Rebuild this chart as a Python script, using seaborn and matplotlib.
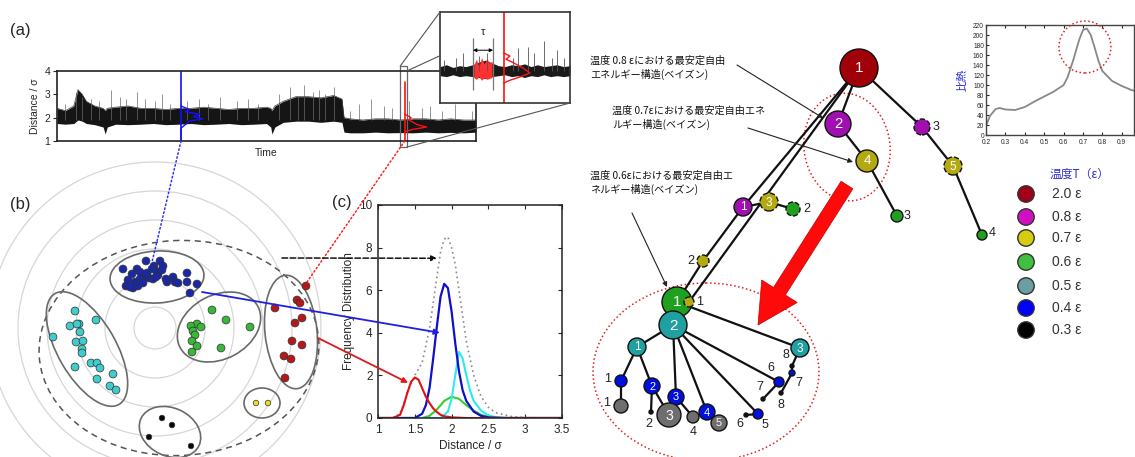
import numpy as np
import pandas as pd
import matplotlib
matplotlib.use("Agg")
import matplotlib.pyplot as plt
import seaborn as sns
from matplotlib.patches import Ellipse, Rectangle, Circle, FancyArrow

# ---------------- data ----------------
# (a) time series envelope (time fraction, distance/sigma)
ts_t = [0.00,0.02,0.04,0.05,0.06,0.07,0.09,0.11,0.115,0.12,0.14,0.17,0.20,0.23,0.26,0.29,0.32,0.35,0.38,0.41,0.44,0.47,0.50,0.51,0.513,0.52,0.54,0.57,0.60,0.63,0.66,0.68,0.685,0.70,0.73,0.76,0.79,0.82,0.85,0.88,0.91,0.94,0.97,1.00]
ts_low = [1.75,1.72,1.75,1.9,1.85,1.75,1.7,1.6,1.3,1.6,1.72,1.7,1.72,1.75,1.7,1.72,1.75,1.7,1.72,1.75,1.7,1.72,1.75,1.6,1.3,1.6,1.8,1.85,1.85,1.8,1.85,1.8,1.38,1.35,1.35,1.38,1.35,1.36,1.35,1.38,1.35,1.37,1.35,1.38]
ts_up = [2.4,2.3,2.5,3.2,3.0,2.7,2.5,2.4,2.3,2.4,2.45,2.5,2.4,2.4,2.35,2.4,2.4,2.45,2.4,2.35,2.4,2.4,2.45,2.4,2.3,2.5,2.7,2.9,2.9,2.85,2.95,2.8,2.0,1.95,1.9,1.95,1.95,1.9,1.95,1.95,1.9,1.95,1.9,1.9]
spike_t = [0.02,0.045,0.06,0.08,0.1,0.13,0.15,0.165,0.19,0.21,0.235,0.25,0.27,0.31,0.34,0.36,0.39,0.43,0.455,0.48,0.53,0.555,0.575,0.59,0.61,0.625,0.64,0.66,0.70,0.72,0.75,0.78,0.80,0.84,0.87,0.89,0.92,0.95,0.99]
spike_top = [2.6,3.1,2.9,2.8,2.7,3.2,2.9,2.8,3.1,2.8,2.7,3.0,2.6,2.7,2.8,2.6,2.9,2.7,2.8,2.6,3.0,3.3,2.9,3.4,3.1,3.2,3.0,3.3,2.3,2.6,2.8,2.5,2.4,2.7,2.4,2.5,2.3,2.6,2.3]
blue_t0 = 0.296
blue_hist_y = [2.5,2.35,2.25,2.15,2.05,1.95,1.85,1.7,1.55,1.0]
blue_hist_w = [0.0,0.02,0.01,0.045,0.03,0.052,0.02,0.01,0.0,0.0]
red_t0 = 0.83
red_hist_y = [2.15,2.0,1.9,1.8,1.7,1.6,1.5,1.4]
red_hist_w = [0.0,0.015,0.01,0.02,0.03,0.052,0.02,0.0]
zoom_t = [0.819, 0.835]

# inset (zoomed trace), normalised units
ins_x = [0,0.05,0.1,0.15,0.2,0.25,0.3,0.35,0.4,0.45,0.5,0.55,0.6,0.65,0.7,0.75,0.8,0.85,0.9,0.95,1.0]
ins_low = [0.30,0.29,0.31,0.29,0.30,0.29,0.28,0.27,0.29,0.30,0.31,0.29,0.30,0.28,0.30,0.29,0.31,0.29,0.30,0.29,0.30]
ins_up = [0.40,0.42,0.39,0.41,0.40,0.42,0.45,0.47,0.44,0.41,0.40,0.42,0.41,0.43,0.40,0.42,0.40,0.41,0.42,0.40,0.41]
ins_red_x = [0.26,0.28,0.30,0.32,0.34,0.36,0.38,0.40]
ins_red_low = [0.28,0.26,0.29,0.25,0.28,0.26,0.27,0.28]
ins_red_up = [0.42,0.48,0.40,0.50,0.43,0.49,0.44,0.46]
ins_spk_x = [0.03,0.12,0.18,0.30,0.36,0.56,0.60,0.68,0.72,0.80,0.86,0.90,0.95]
ins_spk_top = [0.47,0.50,0.55,0.52,0.55,0.50,0.60,0.62,0.55,0.68,0.50,0.58,0.50]
ins_hist_x = [0.49,0.538,0.508,0.554,0.638,0.692,0.615,0.538,0.49]
ins_hist_y = [0.55,0.516,0.48,0.45,0.385,0.33,0.286,0.25,0.22]

# (b) cluster points (pixel layout)
blue_pts = [(123,269),(137,269),(146,261),(160,261),(154,266),(163,266),(152,269),(157,272),(142,274),(147,277),(132,274),(128,280),(126,286),(135,282),(140,279),(133,288),(138,286),(143,283),(149,278),(153,279),(158,275),(166,279),(173,277),(175,282),(178,283),(187,273),(187,282),(197,284),(190,293),(167,282),(162,270),(140,272),(147,273),(156,277),(130,287)]
cyan_pts = [(75,311),(96,320),(70,326),(79,324),(77,324),(80,332),(53,337),(76,342),(83,341),(82,349),(82,353),(75,367),(91,363),(97,363),(100,368),(113,374),(97,379),(110,386),(116,390)]
green_pts = [(212,310),(226,320),(250,327),(197,324),(191,326),(201,327),(193,331),(195,335),(192,341),(197,346),(192,352),(221,348)]
red_pts = [(306,286),(297,300),(300,303),(275,308),(295,323),(302,318),(292,341),(302,345),(284,356),(291,359),(285,378)]
yellow_pts = [(256,403),(268,403)]
black_pts = [(162,418),(172,425),(149,437),(191,446)]
ring_radii = [21,50,79,108,137,166]

# (c) frequency distributions
red_x = [1.0,1.2,1.3,1.35,1.4,1.45,1.5,1.55,1.6,1.65,1.7,1.75,1.8,1.85,1.9,2.0,2.2,3.5]
red_y = [0,0,0.15,0.6,1.2,1.7,1.9,1.8,1.4,1.0,0.7,0.45,0.28,0.15,0.08,0.03,0,0]
blue_x = [1.0,1.5,1.6,1.65,1.7,1.75,1.8,1.85,1.9,1.95,2.0,2.05,2.1,2.15,2.2,2.3,2.4,2.5,2.7,3.5]
blue_y = [0,0,0.2,0.6,1.4,2.8,4.3,5.7,6.3,6.1,5.0,3.5,2.2,1.3,0.8,0.3,0.1,0.03,0,0]
cyan_x = [1.0,1.85,1.95,2.0,2.05,2.1,2.15,2.2,2.25,2.3,2.4,2.5,2.6,2.8,3.5]
cyan_y = [0,0,0.3,0.9,2.0,3.1,2.8,2.0,1.3,0.8,0.35,0.12,0.04,0,0]
green_x = [1.0,1.6,1.7,1.8,1.9,2.0,2.1,2.2,2.3,2.4,2.5,2.6,3.5]
green_y = [0,0,0.1,0.4,0.8,1.0,0.9,0.6,0.35,0.15,0.05,0,0]
tot_x = [1.2,1.3,1.4,1.5,1.6,1.7,1.8,1.85,1.9,1.95,2.0,2.05,2.1,2.15,2.2,2.3,2.4,2.5,2.6,2.8,3.0,3.2]
tot_y = [0,0.2,1.2,2.0,2.6,4.2,6.6,7.8,8.4,8.5,8.0,7.2,6.0,4.8,3.6,2.0,1.0,0.5,0.25,0.08,0.02,0]

# specific heat
cv_T = [0.2,0.22,0.25,0.27,0.3,0.35,0.4,0.45,0.5,0.55,0.6,0.62,0.65,0.68,0.7,0.72,0.74,0.76,0.78,0.8,0.85,0.9,0.95,0.97]
cv_v = [18,38,52,54,51,50,56,67,77,87,100,115,150,190,210,213,200,175,148,128,108,98,90,88]

# tree (pixel layout)
node_x = [859,838,867,897,922,953,982,743,769,793,703,677,689,673,637,800,621,652,676,707,758,779,792,621,669,693,719,651,746,763,781,792]
node_y = [68,124,161,216,127,166,235,207,202,209,261,302,302,325,347,348,381,386,397,412,414,382,373,406,415,417,423,412,415,399,393,366]
node_r = [19,13,11,6,8,9,5,9,9,7,6,15,5,14,9,9,6,8,8,8,5,5,3,7,12,6,8,2,2,2,2,2]
node_c = ['darkred','purple','olive','green','purple','olive','green','purple','olive','green','olive','green','olive','teal','teal','teal','blue','blue','blue','blue','blue','blue','blue','gray','gray','gray','gray','black','black','black','black','black']
node_lab = ['1','2','4','3','3','5','4','1','3','2','2','1','1','2','1','3','1','2','3','4','5','6','7','1','3','4','5','2','6','7','8','8']
lab_in = [1,1,1,0,0,1,0,1,1,0,0,1,0,1,1,1,0,1,1,1,0,0,0,0,1,0,1,0,0,0,0,0]
lab_dx = [0,0,0,10,14,0,10,0,0,14,-12,0,11,0,0,0,-13,0,0,0,7,-8,7,-14,0,0,0,-2,-6,-3,0,-6]
lab_dy = [0,0,0,0,0,0,-2,0,0,0,0,0,0,0,0,0,-2,0,0,0,11,-14,10,-3,0,15,0,12,9,-12,12,-11]
dashed = [4,5,8,9,10,12]
edges = [(0,1),(1,2),(2,3),(0,4),(4,5),(5,6),(0,7),(7,10),(10,11),(0,12),(7,8),(8,9),
         (11,13),(11,15),(13,14),(14,16),(16,23),(14,17),(17,27),(17,24),(13,18),(18,25),
         (13,19),(19,26),(13,20),(20,28),(13,21),(21,29),(15,31),(31,22),(22,30)]
node_pal = {'darkred':'#a00008','purple':'#a010b0','olive':'#b3aa12','green':'#1fa01f',
            'teal':'#20a0a0','blue':'#0010e0','gray':'#6e6e6e','black':'#111111'}

leg_labels = ['2.0 ε','0.8 ε','0.7 ε','0.6 ε','0.5 ε','0.4 ε','0.3 ε']
leg_colors = ['#a00018','#d010c0','#d8cc10','#40c040','#6a9ea0','#0000ff','#000000']

ann_texts = ['温度 0.8 εにおける最安定自由\nエネルギー構造(ベイズン)',
             '温度 0.7εにおける最安定自由エネ\nルギー構造(ベイズン)',
             '温度 0.6εにおける最安定自由エ\nネルギー構造(ベイズン)']

# ---------------- figure ----------------
W, H = 1135, 457
sns.set_style("white")
plt.rcParams['font.family'] = ['Liberation Sans', 'DejaVu Sans', 'Noto Sans CJK JP']
JP = ['Noto Sans CJK JP', 'DejaVu Sans']
fig = plt.figure(figsize=(W/100, H/100), dpi=100)
fig.patch.set_facecolor('white')

def px_axes(x0, y0, x1, y1, z=2, fc='white'):
    ax = fig.add_axes([x0/W, 1-y1/H, (x1-x0)/W, (y1-y0)/H], zorder=z)
    ax.set_facecolor(fc)
    return ax

ax_o = fig.add_axes([0, 0, 1, 1], zorder=0)
ax_o.set_xlim(0, W); ax_o.set_ylim(H, 0); ax_o.axis('off')
ax_t = fig.add_axes([0, 0, 1, 1], zorder=10)
ax_t.set_xlim(0, W); ax_t.set_ylim(H, 0); ax_t.axis('off')

# ---- (a) ----
ax_a = px_axes(57, 71, 476, 141, z=2)
ax_a.fill_between(ts_t, ts_low, ts_up, color='#151515', lw=0)
ax_a.vlines(spike_t, 1.9, spike_top, color='#6a6a6a', lw=0.5)
sns.lineplot(x=ts_t, y=ts_up, color='#404040', lw=0.5, ax=ax_a)
ax_a.axvline(blue_t0, color='#1010ff', lw=1.2)
ax_a.plot([blue_t0 + w for w in blue_hist_w], blue_hist_y, color='#1010ff', lw=1)
ax_a.axvline(red_t0, ymax=0.85, color='#ff1010', lw=1.2)
ax_a.plot([red_t0 + w for w in red_hist_w], red_hist_y, color='#ff1010', lw=1)
ax_a.add_patch(Rectangle((zoom_t[0], 0.74), zoom_t[1]-zoom_t[0], 3.47, fill=False,
                         ec='#666', lw=0.9, clip_on=False))
ax_a.set_xlim(0, 1); ax_a.set_ylim(1, 4)
ax_a.set_xticks([]); ax_a.set_yticks([1, 2, 3, 4])
ax_a.tick_params(axis='y', labelsize=7.5, length=3, width=0.8, left=True, direction='out', pad=2)
ax_a.set_ylabel('Distance / σ', fontsize=7.5, labelpad=3)
ax_a.set_xlabel('Time', fontsize=7.5, labelpad=5)
for s in ax_a.spines.values():
    s.set_linewidth(1.2); s.set_color('#222')

# inset
ax_i = px_axes(440, 12, 570, 103, z=5)
ax_i.fill_between(ins_x, ins_low, ins_up, color='#1a1a1a', lw=0)
ax_i.vlines(ins_spk_x, 0.35, ins_spk_top, color='#555', lw=0.6)
ax_i.fill_between(ins_red_x, ins_red_low, ins_red_up, color='#ff3030', lw=0)
ax_i.vlines([0.254, 0.408], 0.14, 0.71, color='#777', lw=0.9)
ax_i.annotate('', xy=(0.254, 0.58), xytext=(0.408, 0.58),
              arrowprops=dict(arrowstyle='<|-|>', lw=0.7, color='k', mutation_scale=5, shrinkA=0, shrinkB=0))
ax_i.text(0.33, 0.72, 'τ', fontsize=8, ha='center', va='bottom')
ax_i.axvline(0.49, color='#ff1010', lw=1.2)
ax_i.plot(ins_hist_x, ins_hist_y, color='#ff1010', lw=1)
ax_i.set_xlim(0, 1); ax_i.set_ylim(0, 1)
ax_i.set_xticks([]); ax_i.set_yticks([])
for s in ax_i.spines.values():
    s.set_linewidth(1.2); s.set_color('#333')

# projection lines
lp = dict(arrowstyle='-', color='#555', lw=0.8, shrinkA=0, shrinkB=0)
ax_t.annotate('', xy=(0, 1), xycoords=ax_i.transAxes, xytext=(zoom_t[0], 4.21), textcoords=ax_a.transData, arrowprops=lp)
ax_t.annotate('', xy=(0, 0.52), xycoords=ax_i.transAxes, xytext=(zoom_t[1], 4.0), textcoords=ax_a.transData, arrowprops=lp)
ax_t.annotate('', xy=(1, 0), xycoords=ax_i.transAxes, xytext=(zoom_t[1], 0.74), textcoords=ax_a.transData, arrowprops=lp)

fig.text(10/W, 1-30/H, '(a)', fontsize=12, va='center', ha='left')
fig.text(10/W, 1-205/H, '(b)', fontsize=12, va='center', ha='left')
fig.text(332/W, 1-203/H, '(c)', fontsize=12, va='center', ha='left')

# ---- (b) ----
for r in ring_radii:
    ax_o.add_patch(Circle((155, 328), r, fill=False, ec='#d6d6d6', lw=0.9))
ax_o.add_patch(Ellipse((179, 348), 280, 215, angle=-3, fill=False, ec='#555', lw=1.1, ls=(0, (4, 3))))
for (cx, cy, w, h, a) in [(157, 277, 94, 52, -3), (87, 349, 128, 58, 60), (219, 327, 88, 64, -28),
                          (291, 332, 52, 114, -6), (262, 403, 36, 30, 0), (170, 432, 64, 48, 25)]:
    ax_o.add_patch(Ellipse((cx, cy), w, h, angle=a, fill=False, ec='#6a6a6a', lw=1.2))

clusters = {'blue': blue_pts, 'cyan': cyan_pts, 'green': green_pts, 'red': red_pts}
rows = []
for k, pts in clusters.items():
    for (x, y) in pts:
        rows.append({'x': x, 'y': y, 'cl': k})
pts_df = pd.DataFrame(rows)
pt_pal = {'blue': '#1a28a8', 'cyan': '#40cccc', 'green': '#38b838', 'red': '#b41818',
          'yellow': '#e8e020', 'black': '#080808'}
sns.scatterplot(data=pts_df, x='x', y='y', hue='cl', palette=pt_pal, s=32, edgecolor='#303030',
                linewidth=0.5, legend=False, ax=ax_o, zorder=3)
small_df = pd.DataFrame([{'x': x, 'y': y, 'cl': 'yellow'} for x, y in yellow_pts] +
                        [{'x': x, 'y': y, 'cl': 'black'} for x, y in black_pts])
sns.scatterplot(data=small_df, x='x', y='y', hue='cl', palette=pt_pal, s=16, edgecolor='#303030',
                linewidth=0.5, legend=False, ax=ax_o, zorder=3)
ax_o.set_xlim(0, W); ax_o.set_ylim(H, 0)

# ---- (c) ----
ax_c = px_axes(378, 205, 562, 418, z=3, fc='none')
sns.lineplot(x=tot_x, y=tot_y, color='#8a8a8a', lw=1.2, ls=(0, (1, 2)), ax=ax_c)
sns.lineplot(x=green_x, y=green_y, color='#30d030', lw=1.5, ax=ax_c)
sns.lineplot(x=cyan_x, y=cyan_y, color='#30e8f0', lw=1.5, ax=ax_c)
sns.lineplot(x=blue_x, y=blue_y, color='#1010c8', lw=1.6, ax=ax_c)
sns.lineplot(x=red_x, y=red_y, color='#e01010', lw=1.5, ax=ax_c)
ax_c.set_xlim(1, 3.5); ax_c.set_ylim(0, 10)
ax_c.set_xticks([1, 1.5, 2, 2.5, 3, 3.5]); ax_c.set_xticklabels(['1', '1.5', '2', '2.5', '3', '3.5'])
ax_c.set_yticks([0, 2, 4, 6, 8, 10])
ax_c.tick_params(labelsize=8.5, direction='in', length=3, top=True, right=True, left=True, bottom=True, pad=4)
ax_c.set_xlabel('Distance / σ', fontsize=8.5, labelpad=3)
ax_c.set_ylabel('Frequency Distribution', fontsize=8.5, labelpad=3)
for s in ax_c.spines.values():
    s.set_linewidth(1.1); s.set_color('#222')

# connectors between panels
ax_t.annotate('', xy=(152, 262), xytext=(blue_t0, 1.0), textcoords=ax_a.transData,
              arrowprops=dict(arrowstyle='-', ls=':', color='#3030ff', lw=1.1, shrinkA=0, shrinkB=0))
ax_t.annotate('', xy=(307, 282), xytext=(red_t0, 1.0), textcoords=ax_a.transData,
              arrowprops=dict(arrowstyle='-', ls=':', color='#ff2020', lw=1.1, shrinkA=0, shrinkB=0))
ax_t.annotate('', xy=(1.8, 7.5), xycoords=ax_c.transData, xytext=(282, 258), textcoords=ax_t.transData,
              arrowprops=dict(arrowstyle='-|>', ls='--', color='#111', lw=1.1, mutation_scale=8, shrinkA=0, shrinkB=0))
ax_t.annotate('', xy=(1.84, 4.0), xycoords=ax_c.transData, xytext=(202, 292), textcoords=ax_t.transData,
              arrowprops=dict(arrowstyle='-|>', color='#2020e0', lw=1.3, mutation_scale=8, shrinkA=0, shrinkB=0))
ax_t.annotate('', xy=(1.41, 1.65), xycoords=ax_c.transData, xytext=(318, 338), textcoords=ax_t.transData,
              arrowprops=dict(arrowstyle='-|>', color='#e01818', lw=1.3, mutation_scale=8, shrinkA=0, shrinkB=0))

# ---- tree ----
for a, b in edges:
    ax_o.plot([node_x[a], node_x[b]], [node_y[a], node_y[b]], color='#111', lw=1.6, zorder=2,
              solid_capstyle='round')
ndf = pd.DataFrame({'x': node_x, 'y': node_y, 'r': node_r, 'c': node_c})
ndf['s'] = (2 * ndf['r'] * 0.72) ** 2
solid = ndf.drop(index=dashed)
dash = ndf.loc[dashed]
sns.scatterplot(data=solid, x='x', y='y', hue='c', palette=node_pal, s=solid['s'].values,
                edgecolor='#111', linewidth=1.0, legend=False, ax=ax_o, zorder=4)
sns.scatterplot(data=dash, x='x', y='y', hue='c', palette=node_pal, s=dash['s'].values,
                edgecolor='#111', linewidth=1.0, linestyle='--', legend=False, ax=ax_o, zorder=4)
ax_o.set_xlim(0, W); ax_o.set_ylim(H, 0); ax_o.axis('off')
for i in range(len(node_x)):
    if lab_in[i]:
        fs = min(11, 0.55 * node_r[i] + 3.5)
        ax_o.text(node_x[i], node_y[i] + 0.5, node_lab[i], color='white', fontsize=fs,
                  ha='center', va='center', zorder=5)
    else:
        ax_o.text(node_x[i] + lab_dx[i], node_y[i] + lab_dy[i], node_lab[i], color='#222',
                  fontsize=9, ha='center', va='center', zorder=5)

# red dotted regions and big arrow
ax_o.add_patch(Ellipse((847, 147), 86, 108, angle=-8, fill=False, ec='#e02020', lw=1.1, ls=':'))
ax_o.add_patch(Ellipse((706, 372), 226, 178, angle=0, fill=False, ec='#e02020', lw=1.1, ls=':'))
ax_o.add_patch(FancyArrow(847, 185, -89, 140, width=14, head_width=42, head_length=40,
                          length_includes_head=True, fc='#ff0a0a', ec='#c00000', lw=0.5, zorder=3))

# annotations
ann_pos = [(590, 56), (612, 106), (590, 171)]
ann_from = [(737, 65), (748, 128), (632, 213)]
ann_to = [(823, 118), (853, 162), (667, 287)]
for txt, p, f, t in zip(ann_texts, ann_pos, ann_from, ann_to):
    ax_o.text(p[0], p[1], txt, fontsize=7.3, family=JP, ha='left', va='top', linespacing=1.35, color='#111')
    ax_o.annotate('', xy=t, xytext=f, arrowprops=dict(arrowstyle='-|>', lw=0.8, color='#222',
                                                      mutation_scale=7, shrinkA=0, shrinkB=0))

# ---- specific heat inset ----
ax_s = px_axes(986, 25, 1134, 135, z=3)
sns.lineplot(x=cv_T, y=cv_v, color='#888', lw=1.3, ax=ax_s)
ax_s.scatter([0.71], [176], s=(52 * 0.72) ** 2, facecolor='none', edgecolor='#e02020', lw=1.1,
             linestyle=':', clip_on=False, zorder=5)
ax_s.set_xlim(0.2, 0.963); ax_s.set_ylim(0, 220)
ax_s.set_xticks([0.2, 0.3, 0.4, 0.5, 0.6, 0.7, 0.8, 0.9])
ax_s.set_xticklabels(['0.2', '0.3', '0.4', '0.5', '0.6', '0.7', '0.8', '0.9'])
ax_s.set_yticks(list(range(0, 221, 20)))
ax_s.tick_params(axis='y', labelsize=4.8, direction='in', length=2, pad=1.5, left=True)
ax_s.tick_params(axis='x', labelsize=4.8, direction='in', length=2, pad=3, bottom=True, top=True)
ax_s.set_ylabel('比熱', fontsize=8, color='#2a2ad0', family=JP, labelpad=4)
for s in ax_s.spines.values():
    s.set_linewidth(1.0); s.set_color('#444')

# ---- legend ----
ax_o.text(1050, 174, '温度T（ε）', fontsize=8.5, color='#3030c8', family=JP, ha='left', va='center')
leg_y = [194, 217, 238, 262, 286, 308, 330]
ldf = pd.DataFrame({'x': [1026] * 7, 'y': leg_y, 'c': leg_labels})
sns.scatterplot(data=ldf, x='x', y='y', hue='c', palette=dict(zip(leg_labels, leg_colors)), s=140,
                edgecolor='#333', linewidth=1.0, legend=False, ax=ax_o, zorder=4)
for y, lab in zip(leg_y, leg_labels):
    ax_o.text(1052, y, lab, fontsize=10, color='#333', ha='left', va='center')
ax_o.set_xlim(0, W); ax_o.set_ylim(H, 0); ax_o.axis('off')

fig.savefig('out.png', dpi=100, facecolor='white')
